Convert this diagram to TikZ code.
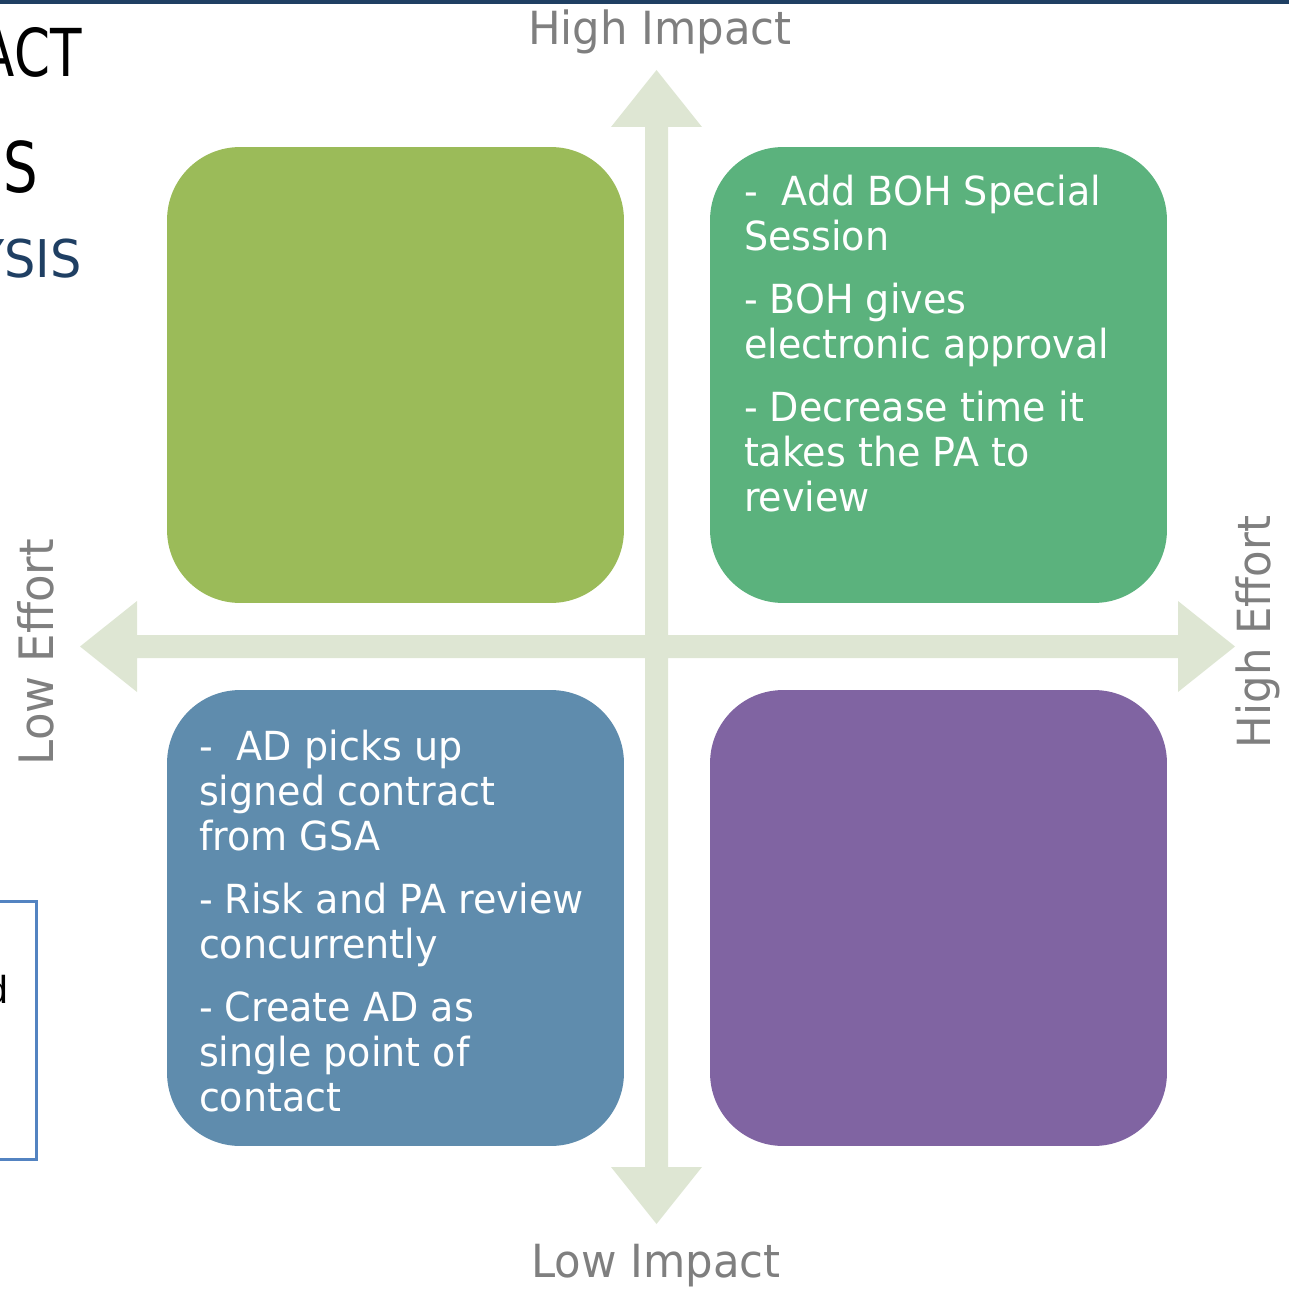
\documentclass[tikz,border=0pt]{standalone}
\usepackage{fontspec}
\setmainfont{DejaVu Sans}[FakeStretch=0.95]
\newfontfamily\sidefont{Liberation Sans}
\newfontfamily\headfont{DejaVu Sans}[FakeStretch=0.78]
\usetikzlibrary{positioning}
\definecolor{mxbar}{HTML}{1F3F63}
\definecolor{mxlime}{HTML}{9BBB59}
\definecolor{mxteal}{HTML}{5BB27D}
\definecolor{mxsteel}{HTML}{5F8CAD}
\definecolor{mxplum}{HTML}{8064A2}
\definecolor{mxaxis}{HTML}{DEE6D3}
\definecolor{mxgrey}{HTML}{7F7F7F}
\definecolor{mxframe}{HTML}{5383C1}
\tikzset{
  quad/.style={rounded corners=1.46cm,minimum width=9.14cm,minimum height=9.12cm,inner sep=0pt},
  note/.style={anchor=north west,inner sep=0pt,align=left,text=white,font=\fontsize{22.8pt}{25.6pt}\selectfont},
  axislabel/.style={inner sep=0pt,text=mxgrey,font=\fontsize{26pt}{30pt}\selectfont},
  axisfill/.style={fill=mxaxis},
  cutoff/.style={inner sep=0pt,anchor=base east}
}

\begin{document}
\begin{tikzpicture}[x=0.02cm,y=-0.02cm]
  \clip (0,0) rectangle (1289,1290);
  \fill[mxbar] (0,0) rectangle (1289,4);

  \node[cutoff,font=\headfont\fontsize{37.6pt}{40pt}\selectfont] (tline) at (82,77) {ACT};
  \node[cutoff,font=\headfont\fontsize{39.8pt}{42pt}\selectfont] (tword) at (38,193) {S};
  \node[cutoff,text=mxbar,font=\fontsize{29.6pt}{32pt}\selectfont] (sub) at (82,278) {YSIS};
  \node[draw=mxframe,line width=0.06cm,minimum width=4.74cm,minimum height=5.18cm,inner sep=0pt] (side) at (-81.5,1030.5) {};
  \node[cutoff,font=\sidefont\fontsize{22.2pt}{24pt}\selectfont] (sidetext) at (9,1003) {d};

  \fill[axisfill] (645,127) -- (611,127) -- (656.5,70) -- (702,127) -- (668,127) -- (668,635)
    -- (1178,635) -- (1178,601) -- (1235,646.5) -- (1178,692) -- (1178,658) -- (668,658)
    -- (668,1167) -- (702,1167) -- (656.5,1224) -- (611,1167) -- (645,1167) -- (645,658)
    -- (137,658) -- (137,692) -- (80,646.5) -- (137,601) -- (137,635) -- (645,635) -- cycle;

  \node[quad,fill=mxlime] (nw) at (395.5,375) {};
  \node[quad,fill=mxteal] (ne) at (938.5,375) {};
  \node[quad,fill=mxsteel] (sw) at (395.5,918) {};
  \node[quad,fill=mxplum] (se) at (938.5,918) {};

  \node[note] (nenote) at ([xshift=0.68cm,yshift=-0.56cm]ne.north west)
    {-~ Add BOH Special\\Session\\[0.36cm]- BOH gives\\electronic approval\\[0.36cm]- Decrease time it\\takes the PA to\\review};
  \node[note] (swnote) at ([xshift=0.64cm,yshift=-0.8cm]sw.north west)
    {-~ AD picks up\\signed contract\\from GSA\\[0.36cm]- Risk and PA review\\concurrently\\[0.36cm]- Create AD as\\single point of\\contact};

  \node[axislabel,anchor=base] (himp) at (660,45) {High Impact};
  \node[axislabel,anchor=base] (limp) at (656,1277) {Low Impact};
  \node[axislabel,anchor=base,rotate=90,font=\fontsize{27pt}{30pt}\selectfont] (leff) at (53,652) {Low Effort};
  \node[axislabel,anchor=base,rotate=90] (heff) at (1270,632) {High Effort};
\end{tikzpicture}
\end{document}
